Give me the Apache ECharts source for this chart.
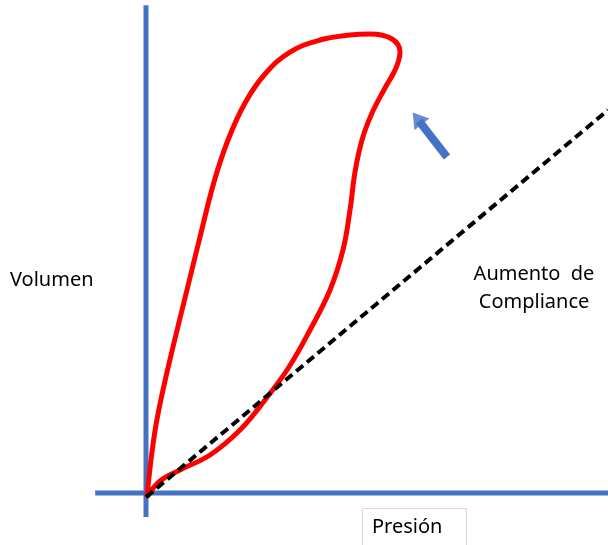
<!DOCTYPE html>
<html>
<head>
<meta charset="utf-8">
<script src="https://cdn.jsdelivr.net/npm/echarts@6/dist/echarts.min.js"></script>
<style>
  html, body { margin: 0; padding: 0; background: #fff; }
  #main { width: 608px; height: 545px; }
</style>
</head>
<body>
<div id="main"></div>
<script>
// lazo presión-volumen (presión, volumen) en unidades relativas
var loopPressure = [0.22, 1.08, 2.16, 3.68, 5.84, 8.87, 11.69, 14.72, 17.75, 21.43, 25.76, 31.17, 37.66, 44.16, 48.48,
    53.25, 54.98, 54.11, 51.73, 48.92, 46.75, 45.24, 44.16, 42.64, 39.83, 35.50, 30.95, 25.76, 20.35, 13.85, 7.36, 3.03, 0.22];
var loopVolume = [-0.87, 7.14, 14.72, 22.29, 31.60, 43.94, 55.41, 67.32, 76.41, 84.42, 90.69, 95.45, 98.05, 99.13, 99.35,
    98.27, 95.45, 91.99, 87.66, 82.25, 76.41, 69.48, 61.26, 52.60, 43.94, 35.28, 27.27, 20.13, 13.64, 8.23, 4.98, 2.60, -0.87];

// recta de compliance (discontinua)
var compliancePressure = [0, 100];
var complianceVolume = [-0.9, 82.9];

// ejes dibujados
var axisVertical = [[0, -5.2], [0, 105.6]];
var axisHorizontal = [[-11.0, 0], [100, 0]];

// flecha: cola, fin del trazo, cabeza
var arrowShaft = [[65.15, 72.73], [59.09, 80.52]];
var arrowHead = [58.72, 81.06];

var labelY = 'Volumen';
var labelX = 'Presión';
var labelNote = ['Aumento  de', 'Compliance'];

function zip(a, b) {
    var out = [];
    for (var i = 0; i < a.length; i++) {
        out.push([a[i], b[i]]);
    }
    return out;
}

var chart = echarts.init(document.getElementById('main'));
var blue = '#4472C4';
var font = '"Noto Sans", "Open Sans", sans-serif';

var option = {
    animation: false,
    grid: { left: 0, right: 0, top: 0, bottom: 0 },
    xAxis: { type: 'value', min: -31.6, max: 100, show: false },
    yAxis: { type: 'value', min: -11.26, max: 106.71, show: false },
    series: [{
            // eje vertical
            type: 'line',
            data: axisVertical,
            symbol: 'none',
            lineStyle: { color: blue, width: 5, cap: 'butt' },
            z: 1
        },
        {
            // eje horizontal
            type: 'line',
            data: axisHorizontal,
            symbol: 'none',
            lineStyle: { color: blue, width: 5, cap: 'butt' },
            z: 1
        },
        {
            type: 'line',
            data: zip(loopPressure, loopVolume),
            symbol: 'none',
            smooth: 0.4,
            lineStyle: { color: '#FF0000', width: 5 },
            z: 2
        },
        {
            type: 'line',
            data: zip(compliancePressure, complianceVolume),
            symbol: 'none',
            lineStyle: { color: '#000', width: 4, type: [9, 5], cap: 'butt' },
            z: 3
        },
        {
            // flecha - trazo
            type: 'line',
            data: arrowShaft,
            symbol: 'none',
            lineStyle: { color: blue, width: 8, cap: 'butt' },
            z: 1
        },
        {
            // flecha - cabeza
            type: 'scatter',
            data: [arrowHead],
            symbol: 'triangle',
            symbolSize: [19, 15],
            symbolRotate: 38,
            itemStyle: { color: blue },
            z: 1
        }
    ],
    graphic: [{
            type: 'text',
            left: 10,
            top: 270,
            style: { text: labelY, font: '20px ' + font, fill: '#000' }
        },
        {
            type: 'text',
            x: 534,
            y: 260,
            style: { text: labelNote.join('\n'), font: '20px ' + font, fill: '#000', align: 'center', lineHeight: 28 }
        },
        {
            type: 'rect',
            left: 362,
            top: 508,
            shape: { width: 104, height: 45 },
            style: { fill: '#fff', stroke: '#d9d9d9', lineWidth: 1 }
        },
        {
            type: 'text',
            left: 372,
            top: 517,
            style: { text: labelX, font: '20px ' + font, fill: '#000' }
        }
    ]
};

chart.setOption(option);
</script>
</body>
</html>
